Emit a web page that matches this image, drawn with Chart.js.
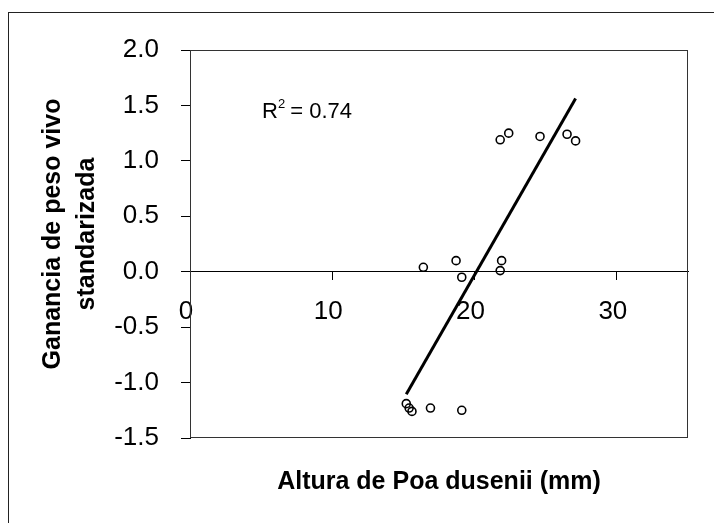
<!DOCTYPE html>
<html>
<head>
<meta charset="utf-8">
<script src="https://cdn.jsdelivr.net/npm/chart.js@4.4.1/dist/chart.umd.min.js"></script>
<style>
    body{ margin:0; background:#fff; }
    #wrap{ width:714px; height:523px; }
</style>
</head>
<body>
<div id="wrap"><canvas id="grafico" width="714" height="523"></canvas></div>
<script>
// altura de Poa dusenii (mm) y ganancia de peso estandarizada, punto a punto
let alturaPoa = [16.4, 18.7, 19.1, 21.9, 21.8, 21.8, 22.4, 24.6, 26.5, 27.1, 15.2, 15.4, 15.6, 16.9, 19.1];
let gananciaPeso = [0.04, 0.10, -0.05, 0.10, 0.01, 1.19, 1.25, 1.22, 1.24, 1.18, -1.19, -1.23, -1.26, -1.23, -1.25];

let xTicks = [0, 10, 20, 30];
let yTicks = [-1.5, -1.0, -0.5, 0.0, 0.5, 1.0, 1.5, 2.0];
let tituloY = ['Ganancia de peso vivo', 'standarizada'];
let r2Texto = "0.74";


// recta de minimos cuadrados
function ajusteLineal(xs, ys){
    let n = xs.length;
    let mx = 0, my = 0;
    for(let i = 0; i < n; i++){ mx += xs[i]; my += ys[i]; }
    mx /= n; my /= n;
    let sxy = 0, sxx = 0;
    for(let i = 0; i < n; i++){
        sxy += (xs[i] - mx) * (ys[i] - my);
        sxx += (xs[i] - mx) * (xs[i] - mx);
    }
    let m = sxy / sxx;
    return { m: m, b: my - m * mx };
}

let recta = ajusteLineal(alturaPoa, gananciaPeso);
let xMin = Math.min(...alturaPoa);
let xMax = Math.max(...alturaPoa);
let puntosRecta = [
    { x: xMin, y: recta.m * xMin + recta.b },
    { x: xMax, y: recta.m * xMax + recta.b }
];

let puntos = alturaPoa.map(function(x, i){
    return { x: x, y: gananciaPeso[i] };
});


// marco exterior, borde del area de trazado, titulo vertical y etiqueta del R2
let marcos = {
    id: 'marcos',
    beforeDraw: function(chart){
        let ctx = chart.ctx;
        ctx.save();
        ctx.setLineDash([]);
        ctx.strokeStyle = '#222';
        ctx.lineWidth = 1;
        ctx.strokeRect(8.5, 12.5, 760, 560);
        ctx.restore();
    },
    beforeDatasetsDraw: function(chart){
        let ctx = chart.ctx;
        let a = chart.chartArea;
        ctx.save();
        ctx.setLineDash([]);
        ctx.strokeStyle = '#333';
        ctx.lineWidth = 1;
        ctx.strokeRect(Math.round(a.left) + 0.5, Math.round(a.top) + 0.5,
                       Math.round(a.right - a.left) - 1, Math.round(a.bottom - a.top) - 1);
        ctx.restore();
    },
    afterDraw: function(chart){
        let ctx = chart.ctx;
        let a = chart.chartArea;
        ctx.save();

        // titulo del eje y, dos renglones girados
        ctx.fillStyle = '#000';
        ctx.font = "bold 25px 'Liberation Sans', Arial, sans-serif";
        ctx.textAlign = 'center';
        ctx.textBaseline = 'middle';
        ctx.save();
        ctx.translate(53, (a.top + a.bottom) / 2 - 10);
        ctx.rotate(-Math.PI / 2);
        ctx.fillText(tituloY[0], 0, 0);
        ctx.fillText(tituloY[1], 0, 34);
        ctx.restore();

        let x = a.left + 72;
        let y = a.top + 68;
        ctx.textBaseline = 'alphabetic';
        ctx.textAlign = 'left';
        ctx.font = "22px 'Liberation Sans', Arial, sans-serif";
        ctx.fillText("R", x, y);
        let w = ctx.measureText("R").width;
        ctx.font = "13px 'Liberation Sans', Arial, sans-serif";
        ctx.fillText("2", x + w, y - 10);
        let w2 = ctx.measureText("2").width;
        ctx.font = "22px 'Liberation Sans', Arial, sans-serif";
        ctx.fillText(" = " + r2Texto, x + w + w2 - 1, y);
        ctx.restore();
    }
};


Chart.defaults.font.family = "'Liberation Sans', Arial, sans-serif";
Chart.defaults.color = '#000';

new Chart(document.getElementById("grafico"), {
    type: 'scatter',
    data: {
        datasets: [
            {
                data: puntos,
                pointStyle: 'circle',
                pointRadius: 4,
                pointBorderWidth: 1.6,
                pointBorderColor: '#000',
                pointBackgroundColor: 'rgba(0,0,0,0)'
            },
            {
                data: puntosRecta,
                showLine: true,
                borderColor: '#000',
                borderWidth: 3,
                pointRadius: 0
            }
        ]
    },
    options: {
        responsive: false,
        animation: false,
        layout: { padding: { top: 50, right: 26, bottom: 0, left: 0 } },
        plugins: {
            legend: { display: false },
            tooltip: { enabled: false },
            title: {
                display: true,
                text: 'Altura de Poa dusenii (mm)',
                position: 'bottom',
                fullSize: false,
                color: '#000',
                font: { size: 25, weight: 'bold' },
                padding: { top: 29, bottom: 26 }
            }
        },
        scales: {
            x: {
                type: 'linear',
                min: 0,
                max: 35,
                position: { y: 0 },
                afterBuildTicks: function(s){
                    s.ticks = xTicks.map(function(v){ return { value: v }; });
                },
                grid: { drawOnChartArea: false, drawTicks: true, tickLength: 8, color: '#000' },
                border: { display: true, color: '#000', width: 1 },
                ticks: {
                    padding: 17,
                    labelOffset: -4,
                    autoSkip: false,
                    maxRotation: 0,
                    color: '#000',
                    font: { size: 26 }
                }
            },
            y: {
                type: 'linear',
                min: -1.5,
                max: 2.0,
                position: 'left',
                afterBuildTicks: function(s){
                    s.ticks = yTicks.map(function(v){ return { value: v }; });
                },
                afterFit: function(s){
                    s.width = 190;
                },
                grid: { drawOnChartArea: false, drawTicks: true, tickLength: 9, color: '#000' },
                border: { display: true, color: '#000', width: 1 },
                ticks: {
                    padding: 22,
                    color: '#000',
                    font: { size: 26 },
                    callback: function(v){ return Number(v).toFixed(1); }
                }
            }
        }
    },
    plugins: [marcos]
});
</script>
</body>
</html>
